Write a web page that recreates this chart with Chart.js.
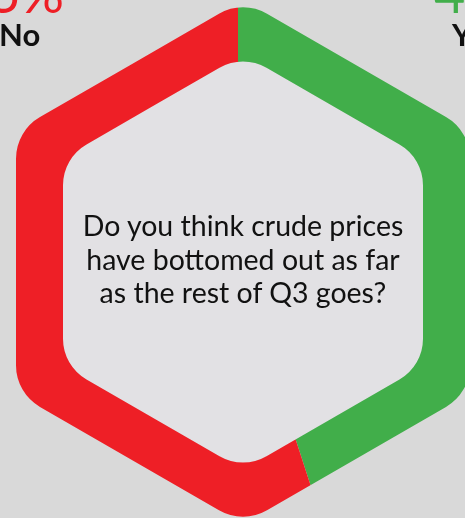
<!DOCTYPE html>
<html><head><meta charset="utf-8">
<script src="https://cdn.jsdelivr.net/npm/chart.js@4"></script>
<style>
html,body{margin:0;padding:0;background:#d9d9d9;overflow:hidden}
#wrap{position:relative;width:465px;height:518px;overflow:hidden}
canvas{position:absolute;left:0;top:0}
.t{position:absolute;font-family:Lato,"Open Sans",sans-serif;white-space:nowrap;line-height:1}
#q{position:absolute;left:43px;width:400px;top:209px;text-align:center;font-family:Lato,sans-serif;font-size:28.5px;line-height:33.5px;color:#111;white-space:nowrap}
</style></head><body>
<div id="wrap">
<canvas id="c" width="465" height="518"></canvas>
<div id="q"></div>
<div id="pNo" class="t" style="right:401px;top:-34px;font-size:54px;color:#ee1f26"></div>
<div id="lNo" class="t" style="left:-1px;top:19px;font-size:31px;font-weight:700;color:#111"></div>
<div id="pYes" class="t" style="left:434px;top:-34px;font-size:54px;color:#41ae4a"></div>
<div id="lYes" class="t" style="left:452px;top:19px;font-size:31px;font-weight:700;color:#111"></div>
</div>
<script>
const categories = ['Yes', 'No'];
const values = [45, 55];
const colors = ['#41ae4a', '#ee1f26'];
const question = ['Do you think crude prices', 'have bottomed out as far', 'as the rest of Q3 goes?'];

document.getElementById('q').innerHTML = question.join('<br>');
document.getElementById('pYes').textContent = values[0] + '%';
document.getElementById('lYes').textContent = categories[0];
document.getElementById('pNo').textContent = values[1] + '%';
document.getElementById('lNo').textContent = categories[1];

function hexPath(ctx, cx, cy, halfW, r) {
  const R = halfW / Math.cos(Math.PI / 6);
  const pts = [];
  for (let i = 0; i < 6; i++) {
    const a = -Math.PI / 2 + i * Math.PI / 3;
    pts.push([cx + R * Math.cos(a), cy + R * Math.sin(a)]);
  }
  const m0 = [(pts[0][0] + pts[5][0]) / 2, (pts[0][1] + pts[5][1]) / 2];
  ctx.moveTo(m0[0], m0[1]);
  for (let i = 0; i < 6; i++) {
    const p = pts[i], n = pts[(i + 1) % 6];
    ctx.arcTo(p[0], p[1], n[0], n[1], r);
  }
  ctx.closePath();
}

const hexRing = {
  id: 'hexRing',
  beforeDraw(chart) {
    const ctx = chart.ctx;
    ctx.save();
    ctx.fillStyle = '#d9d9d9';
    ctx.fillRect(0, 0, chart.width, chart.height);
    ctx.restore();
  },
  beforeDatasetsDraw(chart) {
    const ctx = chart.ctx;
    const a = chart.chartArea;
    const cx = (a.left + a.right) / 2 + 5, cy = (a.top + a.bottom) / 2;
    ctx.save();
    ctx.beginPath();
    hexPath(ctx, cx, cy, 180, 47);
    ctx.fillStyle = '#e2e1e4';
    ctx.fill();
    ctx.beginPath();
    hexPath(ctx, cx, cy, 227, 48);
    hexPath(ctx, cx, cy, 180, 47);
    ctx.clip('evenodd');
  },
  afterDatasetsDraw(chart) {
    chart.ctx.restore();
  }
};

new Chart(document.getElementById('c'), {
  type: 'doughnut',
  data: {
    labels: categories,
    datasets: [{ data: values, backgroundColor: colors, borderWidth: 0, radius: 330, cutout: 0 }]
  },
  options: {
    responsive: false,
    devicePixelRatio: 1,
    animation: false,
    layout: { padding: { left: 11, right: 0, top: 6, bottom: 0 } },
    plugins: { legend: { display: false }, tooltip: { enabled: false } }
  },
  plugins: [hexRing]
});
</script>
</body></html>
